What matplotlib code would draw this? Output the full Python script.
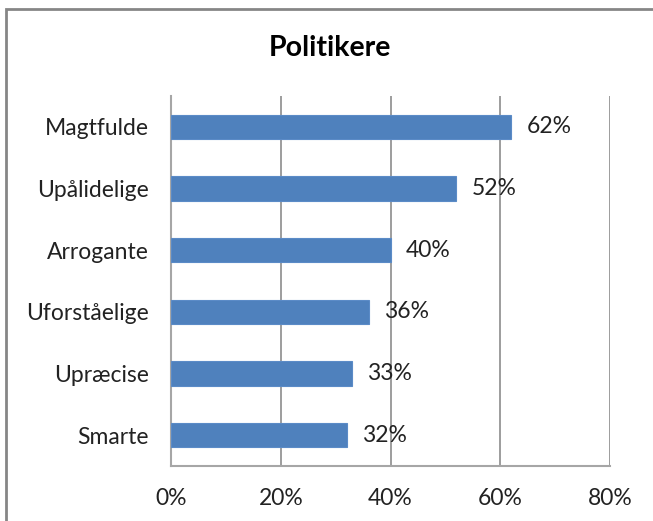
import matplotlib
matplotlib.use("Agg")
from matplotlib import pyplot as plt
from matplotlib.patches import Rectangle
from matplotlib.ticker import PercentFormatter

# Data (top to bottom)
kategorier = ["Magtfulde", "Upålidelige", "Arrogante", "Uforståelige", "Upræcise", "Smarte"]
procenter = [62, 52, 40, 36, 33, 32]
x_ticks = [0, 20, 40, 60, 80]
titel = "Politikere"

plt.rcParams['font.family'] = ['Lato', 'DejaVu Sans']

fig = plt.figure(figsize=(6.53, 5.21), dpi=100)
ax = fig.add_axes([171 / 653, 55 / 521, 439 / 653, 370 / 521])

# Kategorier nedefra og op
y_pos = list(range(len(kategorier)))[::-1]
ax.barh(y_pos, procenter, height=0.39, color="#4F81BD", edgecolor="#5B8BC7",
        linewidth=0.8, zorder=3)

for y, v in zip(y_pos, procenter):
    ax.text(v + 2.8, y, f"{v}%", va="center", ha="left", fontsize=16.5, color="#222222")

ax.set_xlim(0, 80)
ax.set_ylim(-0.5, len(kategorier) - 0.5)
ax.set_xticks(x_ticks)
ax.xaxis.set_major_formatter(PercentFormatter(decimals=0))
ax.set_yticks(y_pos)
ax.set_yticklabels(kategorier)
ax.tick_params(axis="both", length=0, labelsize=16.5, labelcolor="#222222")
ax.tick_params(axis="x", pad=16)
ax.tick_params(axis="y", pad=16)

ax.grid(axis="x", color="#8c8c8c", linewidth=1.2, zorder=0)
for side in ["top", "right"]:
    ax.spines[side].set_visible(False)
for side in ["left", "bottom"]:
    ax.spines[side].set_color("#a6a6a6")
    ax.spines[side].set_linewidth(1.5)

fig.text(330 / 653, 1 - 48 / 521, titel, ha="center", va="center",
         fontsize=20.5, fontweight="bold", color="black")

# Ramme om hele diagrammet
fig.patches.append(Rectangle((6 / 653, -0.1), 1.2, 1 - 9 / 521 + 0.1,
                             transform=fig.transFigure, fill=False,
                             edgecolor="#868686", linewidth=2))

fig.savefig("out.png", dpi=100)
